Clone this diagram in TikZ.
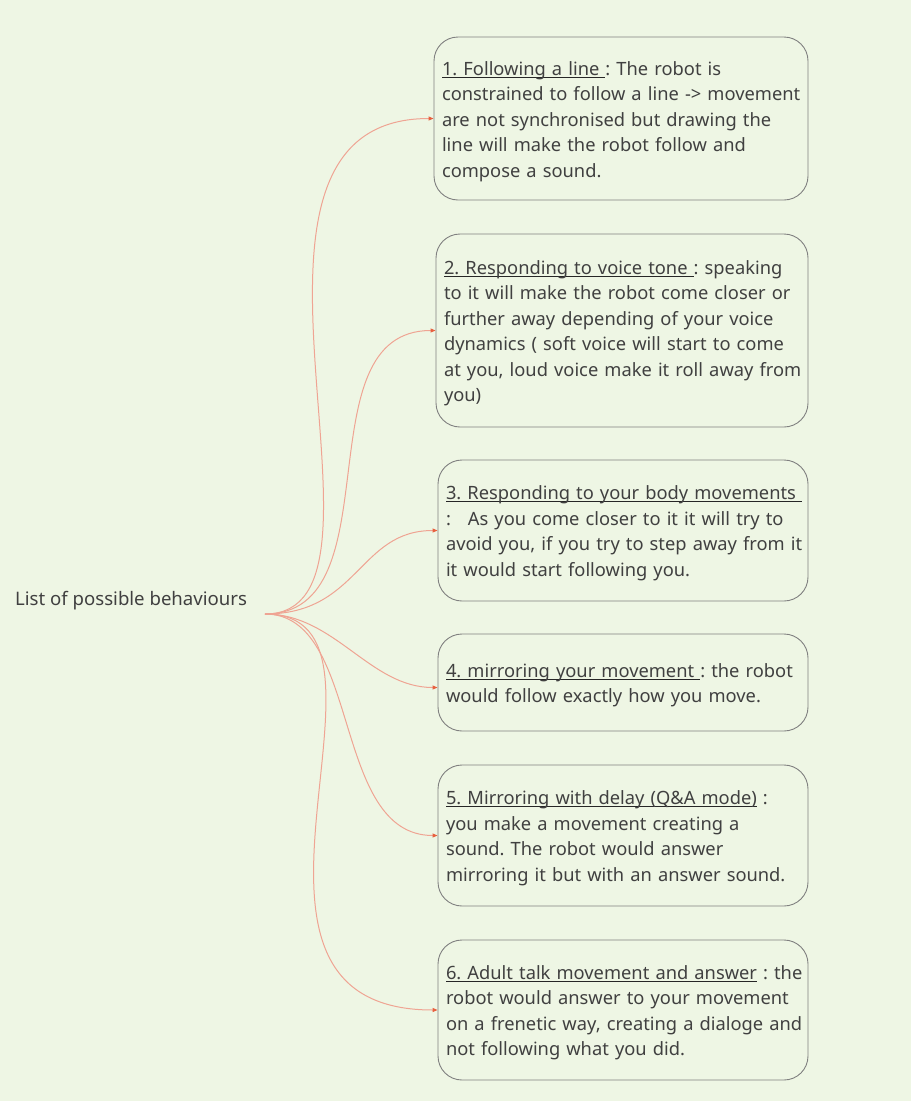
\documentclass[tikz,border=0pt]{standalone}
\usepackage{fontspec}
\setmainfont{Noto Sans}
\usetikzlibrary{arrows.meta,calc}
\definecolor{bg}{HTML}{EEF6E4}
\definecolor{txt}{HTML}{404040}
\definecolor{edge}{HTML}{EFA493}
\definecolor{tipc}{HTML}{E8603F}
\definecolor{bord}{HTML}{808080}
\definecolor{ulc}{HTML}{262626}
\frenchspacing
\newlength\ulw
\newcommand\hul[1]{\settowidth{\ulw}{#1}\rlap{\textcolor{ulc}{\rule[-2.6pt]{\ulw}{1.1pt}}}#1}
\newcommand\topstrut{\rule{0pt}{19.5pt}}
\begin{document}
\begin{tikzpicture}[x=1pt,y=-1pt,
  item/.style={draw=bord, line width=0.9pt, rounded corners=24pt, align=left,
    inner xsep=8pt, inner ysep=0pt, text=txt, font=\fontsize{18.3}{25.5}\selectfont},
  link/.style={draw=edge, line width=1pt, -{Triangle[length=5pt,width=4pt,color=tipc]}}]
\fill[bg] (0,0) rectangle (911,1101);
\useasboundingbox (0,0) rectangle (911,1101);

\node[text=txt, font=\fontsize{18.6}{25.5}\selectfont, anchor=west, inner sep=0pt] (root) at (15,601) {List of possible behaviours};
\coordinate (rs) at (265,614);

\node[item, minimum width=374pt, minimum height=163pt, text width=358pt] (b1) at (621,118.5) {%
\mbox{\topstrut\hul{1. Following a line\ }: The robot is}\\
\mbox{constrained to follow a line -> movement}\\
\mbox{are not synchronised but drawing the}\\
\mbox{line will make the robot follow and}\\
\mbox{compose a sound.}};

\node[item, minimum width=372pt, minimum height=193pt, text width=356pt] (b2) at (622,330.5) {%
\mbox{\topstrut\hul{2. Responding to voice tone\ }: speaking}\\
\mbox{to it will make the robot come closer or}\\
\mbox{further away depending of your voice}\\
\mbox{dynamics ( soft voice will start to come}\\
\mbox{at you, loud voice make it roll away from}\\
\mbox{you)}};

\node[item, minimum width=370pt, minimum height=141pt, text width=354pt] (b3) at (623,530.5) {%
\mbox{\topstrut\hul{3. Responding to your body movements\ }}\\
\mbox{:\hspace{17pt}As you come closer to it it will try to}\\
\mbox{avoid you, if you try to step away from it}\\
\mbox{it would start following you.}};

\node[item, minimum width=370pt, minimum height=97pt, text width=354pt] (b4) at (623,682.5) {%
\mbox{\topstrut\hul{4. mirroring your movement\ }: the robot}\\
\mbox{would follow exactly how you move.}};

\node[item, minimum width=370pt, minimum height=141pt, text width=354pt] (b5) at (623,835.5) {%
\mbox{\topstrut\hul{5. Mirroring with delay (Q\&A mode)} :}\\
\mbox{you make a movement creating a}\\
\mbox{sound. The robot would answer}\\
\mbox{mirroring it but with an answer sound.}};

\node[item, minimum width=370pt, minimum height=140pt, text width=354pt] (b6) at (623,1010) {%
\mbox{\topstrut\hul{6. Adult talk movement and answer} : the}\\
\mbox{robot would answer to your movement}\\
\mbox{on a frenetic way, creating a dialoge and}\\
\mbox{not following what you did.}};

\draw[link] (rs) .. controls +(155,0) and +(-244,0) .. (b1.west);
\draw[link] (rs) .. controls +(131,0) and +(-135,0) .. (b2.west);
\draw[link] (rs) .. controls +(94,0) and +(-79,0) .. (b3.west);
\draw[link] (rs) .. controls +(70,0) and +(-68,0) .. ([yshift=-5pt]b4.west);
\draw[link] (rs) .. controls +(97,0) and +(-107,0) .. (b5.west);
\draw[link] (rs) .. controls +(162,0) and +(-252,0) .. (b6.west);
\end{tikzpicture}
\end{document}
